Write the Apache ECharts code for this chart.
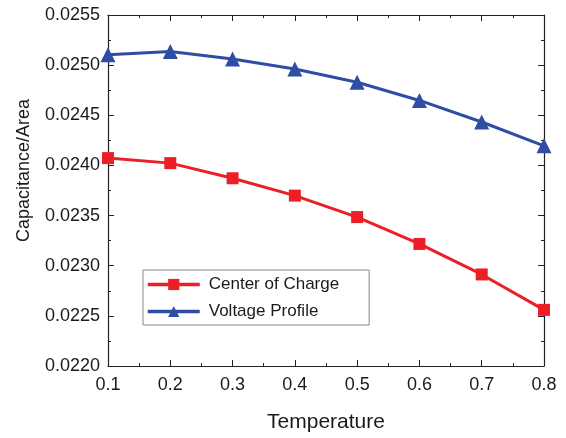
<!DOCTYPE html>
<html>
<head>
<meta charset="utf-8">
<script src="https://cdn.jsdelivr.net/npm/echarts@6/dist/echarts.min.js"></script>
<style>html,body{margin:0;padding:0;background:#fff;}#c{width:566px;height:438px;}</style>
</head>
<body>
<div id="c"></div>
<script>
const temperatures = [0.1, 0.2, 0.3, 0.4, 0.5, 0.6, 0.7, 0.8];
const centerOfCharge = [0.024073, 0.024023, 0.023872, 0.023699, 0.023485, 0.023217, 0.022913, 0.022560];
const voltageProfile = [0.025104, 0.025136, 0.025061, 0.024962, 0.024829, 0.024648, 0.024433, 0.024195];
const seriesNames = ['Center of Charge', 'Voltage Profile'];
const xTitle = 'Temperature';
const yTitle = 'Capacitance/Area';

const font = 'Liberation Sans, Arial, sans-serif';
const axisColor = '#222';
const textColor = '#1a1a1a';
const chart = echarts.init(document.getElementById('c'), null, {renderer: 'canvas'});
const tickCommon = {show: true, inside: true, length: 6, lineStyle: {color: axisColor, width: 1}};
const minorCommon = {show: true, splitNumber: 2, length: 3, lineStyle: {color: axisColor, width: 1}};
chart.setOption({
  animation: false,
  backgroundColor: '#fff',
  grid: {left: 108, right: 22, top: 15, bottom: 70, containLabel: false},
  legend: {
    orient: 'vertical', left: 143, top: 270,
    data: seriesNames,
    itemWidth: 52, itemHeight: 14, itemGap: 10,
    padding: [6, 30, 5, 3],
    borderColor: '#888', borderWidth: 1, borderRadius: 0,
    lineStyle: {width: 3.5},
    textStyle: {fontFamily: font, fontSize: 17, color: textColor, padding: [0, 0, 0, 4]}
  },
  xAxis: [{
    type: 'value', min: 0.1, max: 0.8, interval: 0.1,
    name: xTitle, nameLocation: 'middle', nameGap: 46,
    nameTextStyle: {fontFamily: font, fontSize: 21, color: textColor},
    axisLine: {show: true, lineStyle: {color: axisColor, width: 1.2}},
    axisTick: tickCommon, minorTick: minorCommon,
    splitLine: {show: false},
    axisLabel: {fontFamily: font, fontSize: 18, color: textColor, margin: 10,
      formatter: v => v.toFixed(1)}
  }, {
    type: 'value', position: 'top', min: 0.1, max: 0.8, interval: 0.1,
    axisLine: {show: true, onZero: false, lineStyle: {color: axisColor, width: 1.2}},
    axisTick: tickCommon, minorTick: minorCommon,
    splitLine: {show: false}, axisLabel: {show: false}
  }],
  yAxis: [{
    type: 'value', min: 0.022, max: 0.0255, interval: 0.0005,
    name: yTitle, nameLocation: 'middle', nameGap: 75,
    nameTextStyle: {fontFamily: font, fontSize: 18, color: textColor, padding: [0, 0, 0, 40]},
    axisLine: {show: true, onZero: false, lineStyle: {color: axisColor, width: 1.2}},
    axisTick: tickCommon, minorTick: minorCommon,
    splitLine: {show: false},
    axisLabel: {fontFamily: font, fontSize: 18, color: textColor, margin: 8,
      formatter: v => v.toFixed(4)}
  }, {
    type: 'value', position: 'right', min: 0.022, max: 0.0255, interval: 0.0005,
    axisLine: {show: true, onZero: false, lineStyle: {color: axisColor, width: 1.2}},
    axisTick: tickCommon, minorTick: minorCommon,
    splitLine: {show: false}, axisLabel: {show: false}
  }],
  series: [{
    name: seriesNames[0], type: 'line',
    data: temperatures.map((t, i) => [t, centerOfCharge[i]]),
    symbol: 'rect', symbolSize: 12,
    itemStyle: {color: '#ec1f27'},
    lineStyle: {color: '#ec1f27', width: 3},
    clip: false
  }, {
    name: seriesNames[1], type: 'line',
    data: temperatures.map((t, i) => [t, voltageProfile[i]]),
    symbol: 'triangle', symbolSize: 15,
    itemStyle: {color: '#2e4ea6'},
    lineStyle: {color: '#2e4ea6', width: 3},
    clip: false
  }]
});
</script>
</body>
</html>
